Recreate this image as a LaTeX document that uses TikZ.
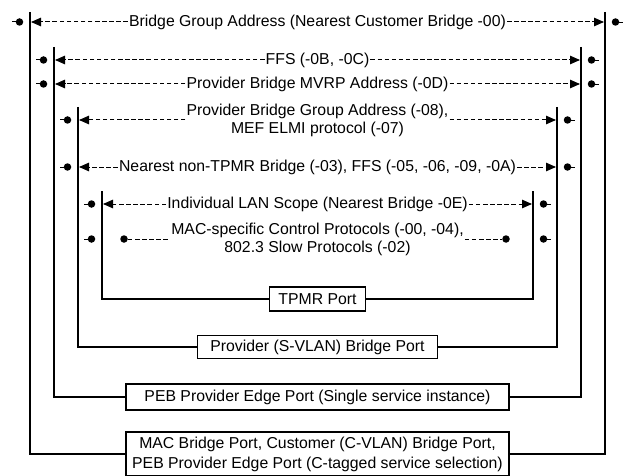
\documentclass[tikz,border=0pt]{standalone}
\usepackage{fontspec}
\setmainfont{Liberation Sans}
\usetikzlibrary{arrows.meta}
\begin{document}
\begin{tikzpicture}[x=1pt,y=-1pt,
  font=\fontsize{15.8}{18}\selectfont,
  bar/.style={line width=1.8pt},
  dashln/.style={line width=1pt, dash pattern=on 4.5pt off 2.6pt},
  tipl/.style={-{Triangle[length=10pt,width=8.5pt]}},
  lbl/.style={inner sep=1pt, align=center},
  port/.style={draw, line width=1.4pt, fill=white, inner sep=2pt, minimum height=24pt, align=center},
  dotc/.style={circle, fill, inner sep=0pt, minimum size=7.5pt},
  stub/.style={line width=1pt},
]
\useasboundingbox (0,0) rectangle (629,476);

% ports (boxes)
\node[port, minimum width=96pt] (tpmr) at (317.5,299) {TPMR Port};
\node[port, minimum width=240pt, minimum height=23pt] (svlan) at (317.5,347) {Provider (S-VLAN) Bridge Port};
\node[port, minimum width=383pt, minimum height=26pt] (peb) at (317.5,397) {PEB Provider Edge Port (Single service instance)};
\node[port, minimum width=383pt, minimum height=44pt, font=\fontsize{15.8}{20}\selectfont] (mac) at (317.5,454) {MAC Bridge Port, Customer (C-VLAN) Bridge Port,\\PEB Provider Edge Port (C-tagged service selection)};

% vertical bars
\coordinate (L1t) at (30,12);  \coordinate (R1t) at (605,12);
\coordinate (L2t) at (54,47);  \coordinate (R2t) at (581,47);
\coordinate (L3t) at (78,107); \coordinate (R3t) at (557,107);
\coordinate (L4t) at (102,191);\coordinate (R4t) at (533,191);
\draw[bar] (L1t) |- (mac.west);  \draw[bar] (R1t) |- (mac.east);
\draw[bar] (L2t) |- (peb.west);  \draw[bar] (R2t) |- (peb.east);
\draw[bar] (L3t) |- (svlan.west);\draw[bar] (R3t) |- (svlan.east);
\draw[bar] (L4t) |- (tpmr.west); \draw[bar] (R4t) |- (tpmr.east);

% labels
\node[lbl] (t1) at (317.5,22) {Bridge Group Address (Nearest Customer Bridge -00)};
\node[lbl] (t2) at (317.5,60) {FFS (-0B, -0C)};
\node[lbl] (t3) at (317.5,84) {Provider Bridge MVRP Address (-0D)};
\node[lbl] (t4) at (317.5,120) {Provider Bridge Group Address (-08),\\MEF ELMI protocol (-07)};
\node[lbl] (t5) at (317.5,167) {Nearest non-TPMR Bridge (-03), FFS (-05, -06, -09, -0A)};
\node[lbl] (t6) at (317.5,204) {Individual LAN Scope (Nearest Bridge -0E)};
\node[lbl] (t7) at (317.5,239) {MAC-specific Control Protocols (-00, -04),\\802.3 Slow Protocols (-02)};

% arrow end coordinates
\coordinate (a1l) at (31,22);  \coordinate (a1r) at (604,22);
\coordinate (a2l) at (55,60);  \coordinate (a2r) at (580,60);
\coordinate (a3l) at (55,84);  \coordinate (a3r) at (580,84);
\coordinate (a4l) at (79,120); \coordinate (a4r) at (556,120);
\coordinate (a5l) at (79,167); \coordinate (a5r) at (556,167);
\coordinate (a6l) at (103,204);\coordinate (a6r) at (532,204);

\draw[dashln, tipl] (t1.west) -- (a1l); \draw[dashln, tipl] (t1.east) -- (a1r);
\draw[dashln, tipl] (t2.west) -- (a2l); \draw[dashln, tipl] (t2.east) -- (a2r);
\draw[dashln, tipl] (t3.west) -- (a3l); \draw[dashln, tipl] (t3.east) -- (a3r);
\draw[dashln, tipl] (t4.west) -- (a4l); \draw[dashln, tipl] (t4.east) -- (a4r);
\draw[dashln, tipl] (t5.west) -- (a5l); \draw[dashln, tipl] (t5.east) -- (a5r);
\draw[dashln, tipl] (t6.west) -- (a6l); \draw[dashln, tipl] (t6.east) -- (a6r);

% inner dots of row 7
\node[dotc] (d7a) at (124,239) {};
\node[dotc] (d7b) at (506,239) {};
\draw[dashln] (d7a) -- (t7.west);
\draw[dashln] (t7.east) -- (d7b);

% outer dots with stubs
\foreach \n/\lx/\rx/\yy in {1/30/605/22, 2/54/581/60, 3/54/581/84, 4/78/557/120, 5/78/557/167, 6/102/533/204, 7/102/533/239}{
  \node[dotc] (ol\n) at (\lx-10.5,\yy) {};
  \coordinate (sl\n) at (\lx-18,\yy);
  \draw[stub] (sl\n) -- (ol\n.center);
  \node[dotc] (or\n) at (\rx+10.5,\yy) {};
  \coordinate (sr\n) at (\rx+18,\yy);
  \draw[line width=0.5pt] (or\n.center) -- (sr\n);
}
\end{tikzpicture}
\end{document}
